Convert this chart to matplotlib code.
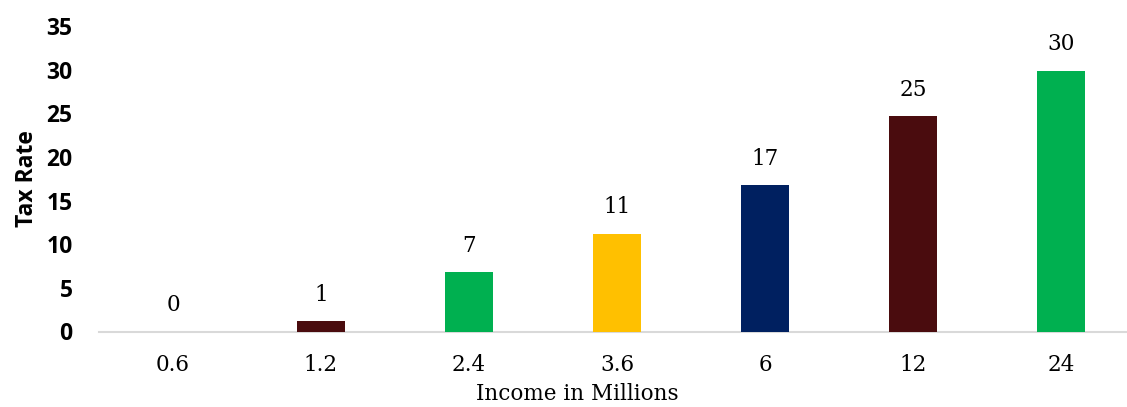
import matplotlib
matplotlib.use('Agg')
import matplotlib.pyplot as plt
import numpy as np

income = ['0.6', '1.2', '2.4', '3.6', '6', '12', '24']
tax_rate = [0, 1.2, 6.8, 11.2, 16.8, 24.7, 29.9]
colors = ['#FFC000', '#4A0C0E', '#00B050', '#FFC000', '#002060', '#4A0C0E', '#00B050']

fig = plt.figure(figsize=(11.27, 4.07), dpi=100)
ax = fig.add_axes([99 / 1127, 1 - 331.5 / 407, 1036 / 1127, 305.5 / 407])

x = np.arange(len(income))
bars = ax.bar(x, tax_rate, width=0.32, color=colors, zorder=3)
ax.bar_label(bars, labels=[f'{v:.0f}' for v in tax_rate], padding=11,
             fontsize=15.5, family='DejaVu Serif')

ax.set_xlim(-0.5, len(income) - 0.5)
ax.set_ylim(0, 35)
ax.set_yticks(range(0, 36, 5))
ax.set_xticks(x)
ax.set_xticklabels(income, family='DejaVu Serif', fontsize=15.5)
for lbl in ax.get_yticklabels():
    lbl.set_family('Open Sans')
    lbl.set_fontweight('bold')
    lbl.set_fontsize(16.5)

ax.tick_params(axis='y', length=0, pad=19)
ax.tick_params(axis='x', length=0, pad=16)

for s in ['top', 'right', 'left']:
    ax.spines[s].set_visible(False)
ax.spines['bottom'].set_color('#D9D9D9')
ax.spines['bottom'].set_linewidth(1.5)

ax.set_ylabel('Tax Rate', family='Open Sans', fontweight='bold', fontsize=16.5, labelpad=5)
ax.set_xlabel('Income in Millions', family='DejaVu Serif', fontsize=15.5, labelpad=6)
ax.xaxis.set_label_coords(0.462, -0.17)

fig.savefig('out.png', dpi=100)
